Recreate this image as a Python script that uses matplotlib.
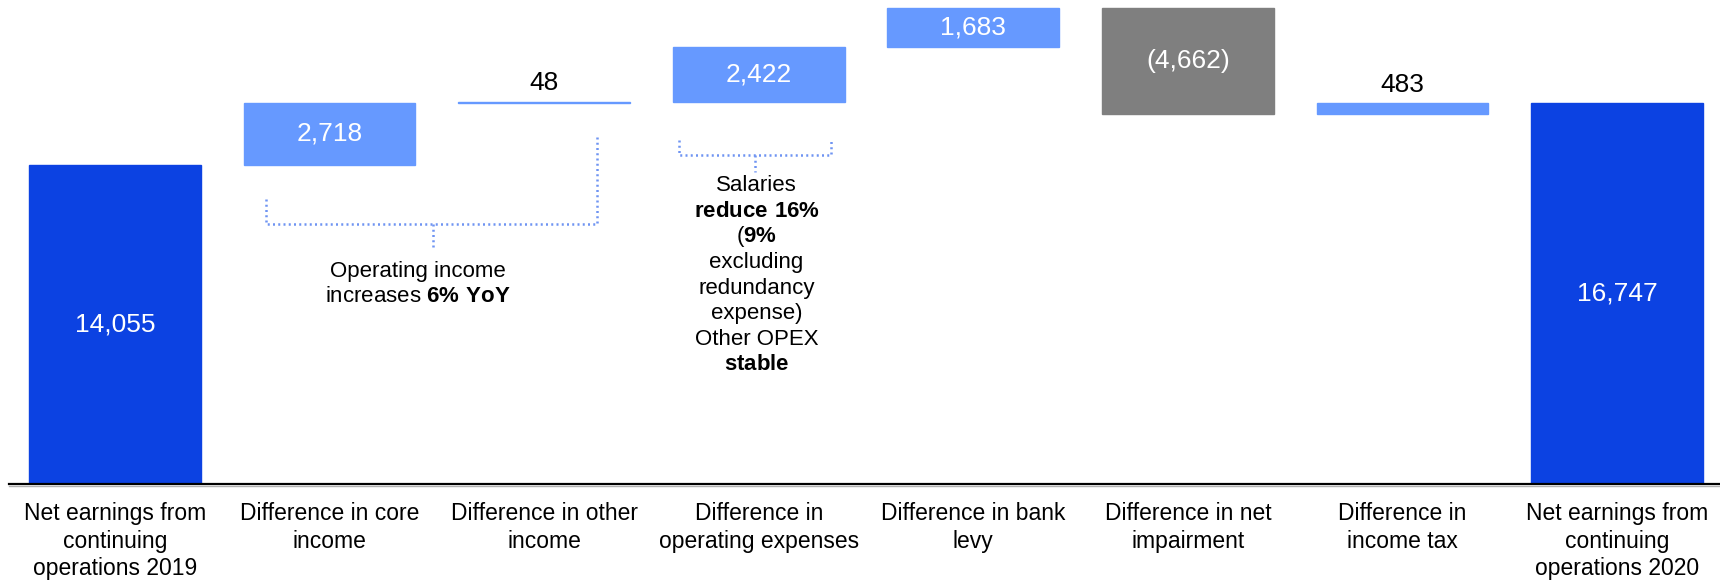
import numpy as np
import matplotlib.pyplot as plt
from matplotlib.lines import Line2D

plt.rcParams['font.family'] = ['Liberation Sans', 'DejaVu Sans']
plt.rcParams['mathtext.fontset'] = 'custom'
plt.rcParams['mathtext.rm'] = 'Liberation Sans'
plt.rcParams['mathtext.bf'] = 'Liberation Sans:bold'

categories = [
    'Net earnings from\ncontinuing\noperations 2019',
    'Difference in core\nincome',
    'Difference in other\nincome',
    'Difference in\noperating expenses',
    'Difference in bank\nlevy',
    'Difference in net\nimpairment',
    'Difference in\nincome tax',
    'Net earnings from\ncontinuing\noperations 2020',
]
values = [14055, 2718, 48, 2422, 1683, -4662, 483, 16747]
value_labels = ['14,055', '2,718', '48', '2,422', '1,683', '(4,662)', '483', '16,747']
is_total = [True, False, False, False, False, False, False, True]

dark_blue = '#0c42e2'
light_blue = '#6699ff'
grey = '#7f7f7f'
bracket_col = '#6f94f2'

# waterfall: bottoms and heights from the running total
bottoms, heights, colors = [], [], []
running = 0
for v, tot in zip(values, is_total):
    if tot:
        bottoms.append(0)
        heights.append(v)
        colors.append(dark_blue)
        running = v
    elif v >= 0:
        bottoms.append(running)
        heights.append(v)
        colors.append(light_blue)
        running += v
    else:
        bottoms.append(running + v)
        heights.append(-v)
        colors.append(grey)
        running += v

fig = plt.figure(figsize=(17.2, 5.8), dpi=100)
ax = fig.add_axes([0, 96 / 580, 1, 484 / 580])

x = np.arange(len(categories))
ax.bar(x, heights, bottom=bottoms, width=0.80, color=colors,
       edgecolor=colors, linewidth=1.0, zorder=2)

for xi, b, h, lab in zip(x, bottoms, heights, value_labels):
    if h < 1000:
        ax.annotate(lab, (xi, b + h), xytext=(0, 13.5), textcoords='offset points',
                    ha='center', va='center', fontsize=19, color='black')
    else:
        ax.text(xi, b + h / 2, lab, ha='center', va='center',
                fontsize=19, color='white')

ax.set_xlim(-0.536, 7.48)
ax.set_ylim(0, 21300)
for s in ax.spines.values():
    s.set_visible(False)
ax.set_yticks([])
ax.set_xticks(x)
ax.set_xticklabels(categories, fontsize=16.5)
ax.tick_params(axis='x', length=0, pad=13)
for t in ax.get_xticklabels():
    t.set_linespacing(1.25)
    t.set_multialignment('center')

# baseline with a faint shadow
fig.add_artist(Line2D([9 / 1720, 1], [96 / 580, 96 / 580], color='black', lw=1.6))
fig.add_artist(Line2D([9 / 1720, 1], [94.5 / 580, 94.5 / 580], color='#b0b0b0', lw=1.0))


def bracket(x0, x1, xm, y_left, y_right, y_h, y_tip):
    style = dict(color=bracket_col, lw=1.8, linestyle=(0, (0.8, 1.3)),
                 solid_capstyle='butt', zorder=3)
    ax.plot([x0, x0, x1, x1], [y_left, y_h, y_h, y_right], **style)
    ax.plot([xm, xm], [y_h, y_tip], **style)


bracket(0.705, 2.245, 1.480, 12540, 15270, 11430, 10445)
bracket(2.627, 3.336, 2.983, 15140, 15140, 14470, 13750)

op_lines = ['Operating income', r'increases $\mathbf{6\%\ YoY}$']
op_y = [9344, 8244]
for txt, yy in zip(op_lines, op_y):
    ax.text(1.412, yy, txt, ha='center', va='center', fontsize=16)

opex_lines = ['Salaries', r'$\mathbf{reduce\ 16\%}$', r'($\mathbf{9\%}$', 'excluding',
              'redundancy', 'expense)', 'Other OPEX', r'$\mathbf{stable}$']
for i, txt in enumerate(opex_lines):
    ax.text(2.99, 13129 - i * 1127, txt, ha='center', va='center', fontsize=16)

fig.savefig('out.png', dpi=100)
